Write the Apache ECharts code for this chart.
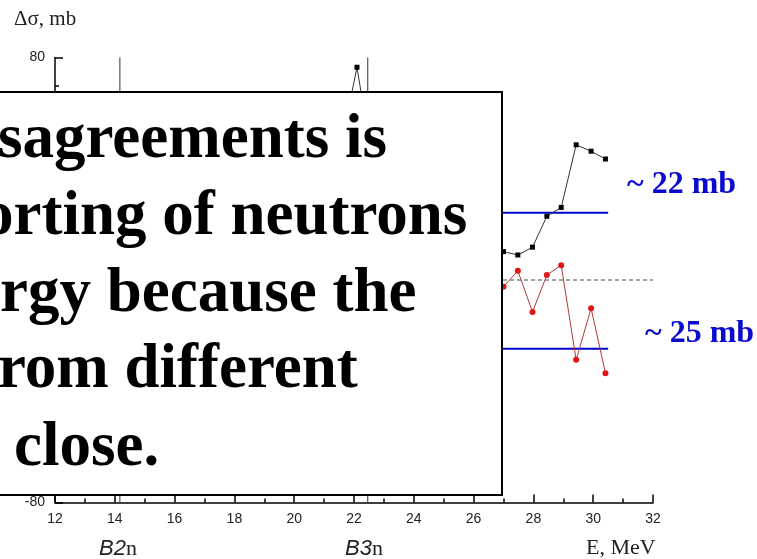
<!DOCTYPE html>
<html>
<head>
<meta charset="utf-8">
<script src="https://cdn.jsdelivr.net/npm/echarts@6/dist/echarts.min.js"></script>
<style>
html,body{margin:0;padding:0;background:#fff;}
#chart{width:757px;height:559px;}
</style>
</head>
<body>
<div id="chart"></div>
<script>
// ---- data ----
const energyMeas = [27.0, 27.48, 27.97, 28.45, 28.93, 29.43, 29.93, 30.41];
const sigmaBlack = [10.2, 9.0, 11.8, 22.9, 26.1, 48.6, 46.3, 43.5];
const sigmaRed = [-2.4, 3.3, -11.5, 1.8, 5.3, -28.7, -10.2, -33.5];
const spikeEnergy = [21.6, 22.1, 22.6];
const spikeSigma = [50.0, 76.5, 43.3];
const thresholdEnergy = [14.17, 22.46];
const thresholdLabels = ['B2', 'B3'];
const avgLevel = [24.2, -24.7];
const avgLabels = ['~ 22 mb', '~ 25 mb'];
const lineStart = 26.0, lineEnd = 30.5;
const xMin = 12, xMax = 32, xStep = 2;
const yMin = -80, yMax = 80, yStep = 20;
const boxLines = ['sagreements is', 'orting of neutrons', 'rgy because the', 'rom different', 'close.'];

const pairs = (xs, ys) => xs.map((x, i) => [x, ys[i]]);

const chart = echarts.init(document.getElementById('chart'), null, {renderer: 'canvas'});

const series = [
  {
    type: 'line', data: [[xMin, 0], [xMax, 0]], symbol: 'none', silent: true,
    lineStyle: {color: '#444', width: 1, type: [4, 3]}, z: 1
  },
  ...thresholdEnergy.map(e => ({
    type: 'line', data: [[e, yMin], [e, yMax]], symbol: 'none', silent: true,
    lineStyle: {color: '#333', width: 1}, z: 1
  })),
  ...avgLevel.map(v => ({
    type: 'line', data: [[lineStart, v], [lineEnd, v]], symbol: 'none', silent: true,
    lineStyle: {color: '#0000cc', width: 2}, z: 2
  })),
  {
    type: 'line', data: pairs(spikeEnergy, spikeSigma), symbol: 'rect', symbolSize: 5,
    itemStyle: {color: '#000'}, lineStyle: {color: '#333', width: 1}, z: 3
  },
  {
    type: 'line', data: pairs(energyMeas, sigmaBlack), symbol: 'rect', symbolSize: 5,
    itemStyle: {color: '#000'}, lineStyle: {color: '#333', width: 1}, z: 3
  },
  {
    type: 'line', data: pairs(energyMeas, sigmaRed), symbol: 'circle', symbolSize: 6,
    itemStyle: {color: '#e01515'}, lineStyle: {color: '#b03a3a', width: 1}, z: 3
  }
];

const textGraphics = [];
const lineY = [145, 222, 299, 375, 453];
const lineX = [-2, -18, 0, -2, 14];
boxLines.forEach((t, i) => {
  textGraphics.push({
    type: 'text', left: lineX[i], top: lineY[i] - 36, z: 101,
    style: {text: t, font: 'bold 63px "Liberation Serif", "Times New Roman", serif', fill: '#000'}
  });
});

const axisCommon = {
  axisLine: {show: true, onZero: false, lineStyle: {color: '#000', width: 1.5}},
  axisTick: {show: true, inside: true, length: 8, lineStyle: {color: '#000', width: 1.5}},
  minorTick: {show: true, splitNumber: 2, length: 4, lineStyle: {color: '#000', width: 1.5}},
  splitLine: {show: false},
  axisLabel: {margin: 10, color: '#222', fontSize: 14, fontFamily: '"Liberation Sans", Arial, sans-serif'}
};

const option = {
  animation: false,
  backgroundColor: '#fff',
  grid: {left: 55, right: 104, top: 57.5, bottom: 56.5},
  xAxis: Object.assign({type: 'value', min: xMin, max: xMax, interval: xStep}, axisCommon),
  yAxis: Object.assign({type: 'value', min: yMin, max: yMax, interval: yStep}, axisCommon),
  series: series,
  graphic: [
    {
      type: 'text', left: 14, top: 9, z: 50,
      style: {text: 'Δσ, mb', font: '21px "Liberation Serif", "Times New Roman", serif', fill: '#222'}
    },
    {
      type: 'text', left: 99, top: 538, z: 50,
      style: {
        text: '{a|' + thresholdLabels[0] + '}{b|n}',
        rich: {
          a: {fontFamily: '"Liberation Sans", Arial, sans-serif', fontStyle: 'italic', fontSize: 22, fill: '#222', color: '#222'},
          b: {fontFamily: '"Liberation Serif", "Times New Roman", serif', fontSize: 22, fill: '#222', color: '#222'}
        }
      }
    },
    {
      type: 'text', left: 345, top: 538, z: 50,
      style: {
        text: '{a|' + thresholdLabels[1] + '}{b|n}',
        rich: {
          a: {fontFamily: '"Liberation Sans", Arial, sans-serif', fontStyle: 'italic', fontSize: 22, fill: '#222', color: '#222'},
          b: {fontFamily: '"Liberation Serif", "Times New Roman", serif', fontSize: 22, fill: '#222', color: '#222'}
        }
      }
    },
    {
      type: 'text', left: 586, top: 537, z: 50,
      style: {text: 'E, MeV', font: '22px "Liberation Serif", "Times New Roman", serif', fill: '#222'}
    },
    {
      type: 'text', left: 627, top: 169, z: 50,
      style: {text: avgLabels[0], font: 'bold 32px "Liberation Serif", "Times New Roman", serif', fill: '#0a0ad0'}
    },
    {
      type: 'text', left: 645, top: 318, z: 50,
      style: {text: avgLabels[1], font: 'bold 32px "Liberation Serif", "Times New Roman", serif', fill: '#0a0ad0'}
    },
    {
      type: 'rect', z: 100,
      shape: {x: -10, y: 92, width: 512, height: 403},
      style: {fill: '#fff', stroke: '#000', lineWidth: 2}
    },
    ...textGraphics
  ]
};
chart.setOption(option);
</script>
</body>
</html>
